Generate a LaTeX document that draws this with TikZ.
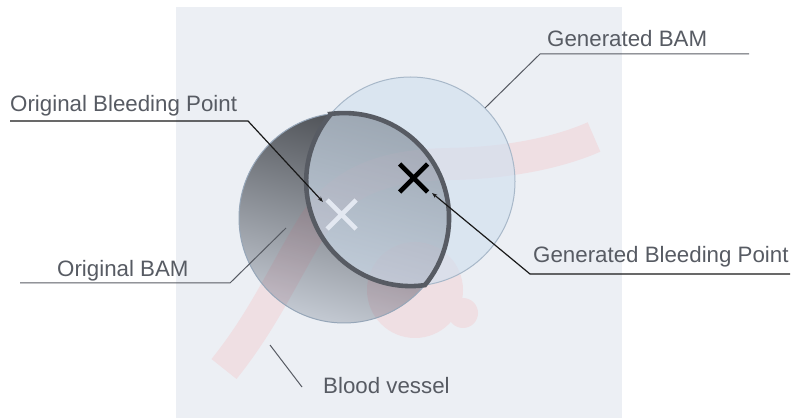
\documentclass[tikz,border=0pt]{standalone}
\usepackage{fontspec}
\setmainfont{Liberation Sans}
\usetikzlibrary{arrows.meta}
\definecolor{bgc}{HTML}{ECEFF4}
\definecolor{vesselc}{HTML}{EFDFE3}
\definecolor{vesseltint}{HTML}{C86474}
\definecolor{labelc}{HTML}{575B63}
\definecolor{genfill}{HTML}{D0DFEF}
\definecolor{genborder}{HTML}{A8B8C9}
\definecolor{origborder}{HTML}{96A6B8}
\definecolor{origtop}{HTML}{4C4F54}
\definecolor{origbot}{HTML}{C3C9D2}
\definecolor{lensc}{HTML}{575B63}
\definecolor{whitex}{HTML}{E3E8F1}
\begin{document}
\begin{tikzpicture}[x=1pt,y=-1pt,
  lbl/.style={font=\fontsize{22.3}{26}\selectfont, text=labelc, inner sep=0pt, anchor=base west},
  pointer/.style={draw=black!90, line width=1.2pt, -{Stealth[length=5.5pt,width=4pt]}},
  leader/.style={draw=labelc, line width=1pt},
  xmark/.style={line width=4.6pt},
  vesselband/.style={line width=32pt}
]
\useasboundingbox (0,0) rectangle (792,419);
% background panel
\fill[bgc] (176,7) rectangle (622,418);
% blood vessel
\draw[vesselc, vesselband] (224,369) .. controls (265,318) and (285,270) .. (315,222)
  .. controls (345,178) and (390,165) .. (450,164)
  .. controls (510,163) and (560,152) .. (594,137);
\fill[vesselc] (415,290) circle[radius=48] (463,313) circle[radius=15];
% circles
\coordinate (O) at (344,218);
\coordinate (G) at (410.5,181.5);
\shade[top color=origtop, bottom color=origbot, shading angle=-15] (O) circle[radius=105];
% faint vessel showing through the original BAM
\begin{scope}
\clip (O) circle[radius=105];
\draw[vesseltint, vesselband, opacity=0.13] (224,369) .. controls (265,318) and (285,270) .. (315,222)
  .. controls (345,178) and (390,165) .. (450,164);
\fill[vesseltint, opacity=0.13] (415,290) circle[radius=48];
\end{scope}
\draw[origborder, line width=1pt] (O) circle[radius=105];
\fill[genfill, opacity=0.62] (G) circle[radius=104.5];
\draw[genborder, line width=1pt] (G) circle[radius=104.5];
% lens outline
\coordinate (T) at (330.9,113.9);
\draw[lensc, line width=4.6pt, line join=miter] (T) arc[start angle=-97.2, end angle=39.7, radius=105]
  arc[start angle=-277.8, end angle=-139.7, radius=104.5] -- cycle;
% bleeding points
\coordinate (gx) at (413.5,178);
\coordinate (ox) at (341.5,214.5);
\draw[xmark, black] ([shift={(-14,-14)}]gx) -- ([shift={(14,14)}]gx) ([shift={(-14,14)}]gx) -- ([shift={(14,-14)}]gx);
\draw[xmark, whitex] ([shift={(-14.5,-14.5)}]ox) -- ([shift={(14.5,14.5)}]ox) ([shift={(-14.5,14.5)}]ox) -- ([shift={(14.5,-14.5)}]ox);
% labels
\node[lbl] (obp) at (10,112) {Original Bleeding Point};
\node[lbl] (gbp) at (533,263) {Generated Bleeding Point};
\node[lbl] (gbam) at (547,47) {Generated BAM};
\node[lbl] (obam) at (57,277) {Original BAM};
\node[lbl] (bv) at (323,393) {Blood vessel};
% leader coordinates
\coordinate (obpL) at (10,121);
\coordinate (obpK) at (248,121);
\coordinate (obpT) at (323,202);
\coordinate (gbpR) at (790,274);
\coordinate (gbpK) at (530,274);
\coordinate (gbpT) at (432,193);
\coordinate (gbamR) at (749,54);
\coordinate (gbamK) at (540,54);
\coordinate (gbamT) at (485,108);
\coordinate (obamL) at (20,283);
\coordinate (obamK) at (230,283);
\coordinate (obamT) at (286,228);
\coordinate (bvA) at (270,345);
\coordinate (bvB) at (302,387);
\draw[pointer] (obpL) -- (obpK) -- (obpT);
\draw[pointer] (gbpR) -- (gbpK) -- (gbpT);
\draw[leader] (gbamR) -- (gbamK) -- (gbamT);
\draw[leader] (obamL) -- (obamK) -- (obamT);
\draw[leader] (bvA) -- (bvB);
\end{tikzpicture}
\end{document}
